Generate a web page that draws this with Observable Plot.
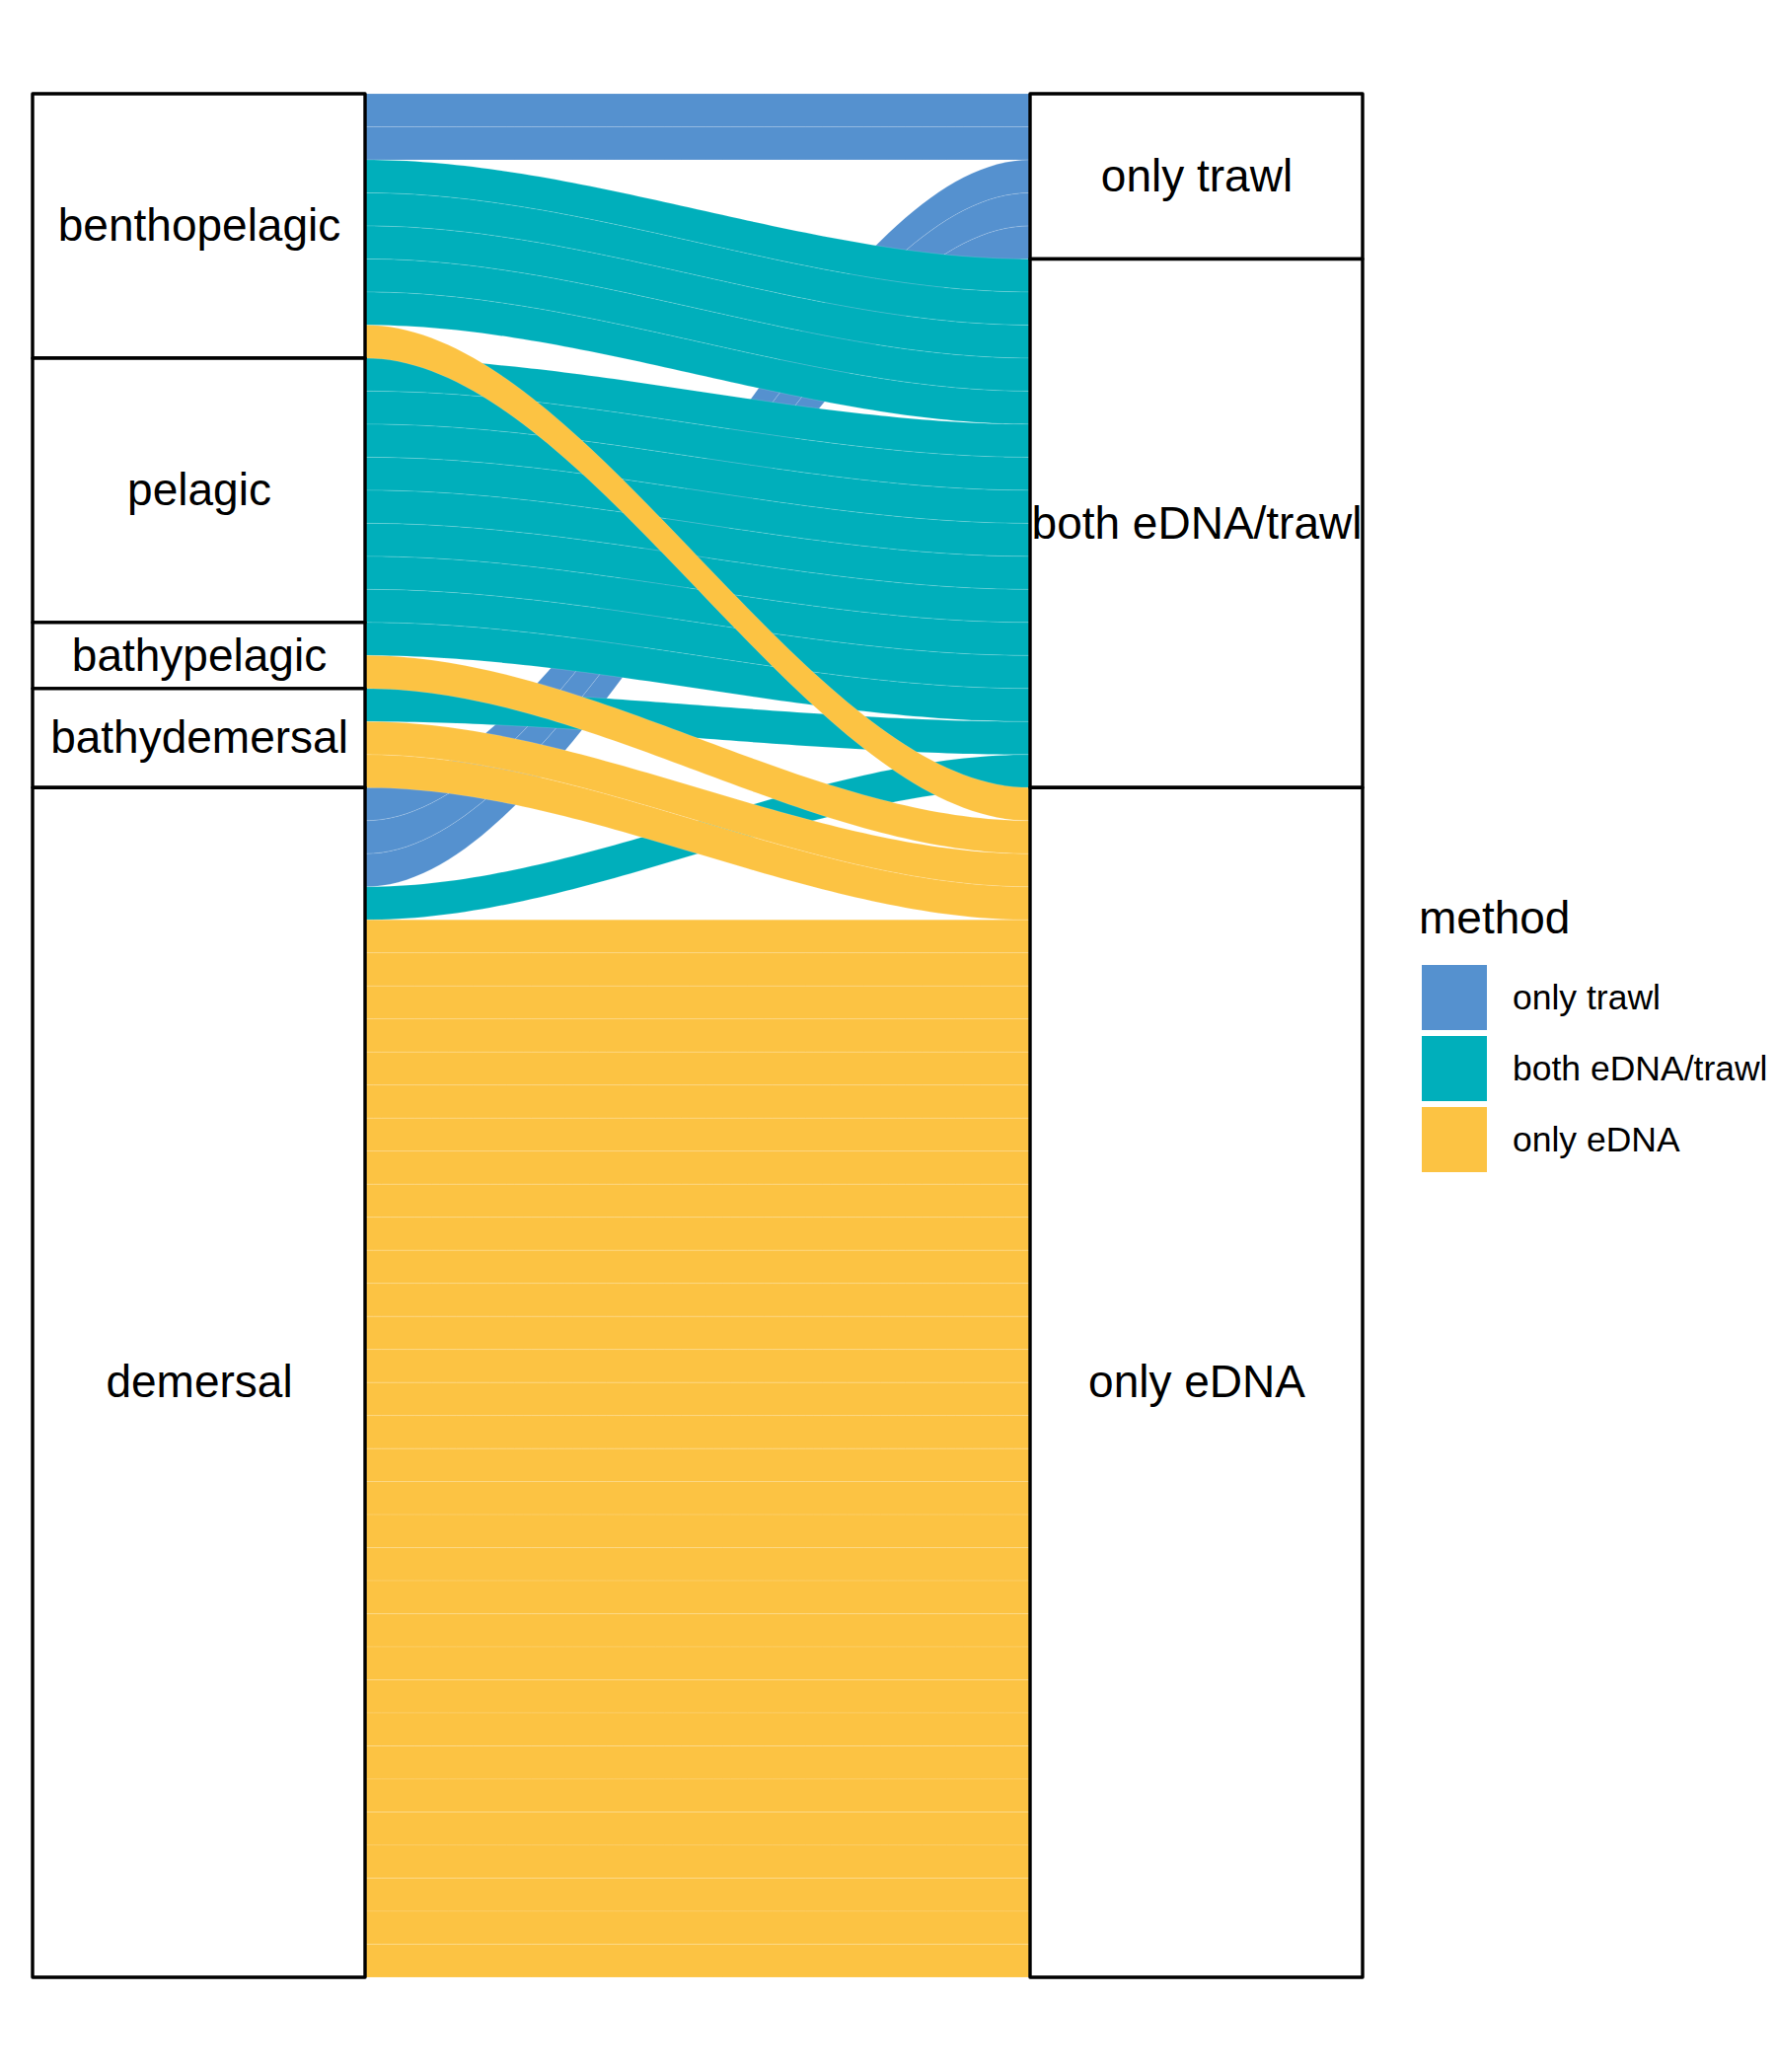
<!DOCTYPE html>
<html><head><meta charset="utf-8">
<script src="https://cdn.jsdelivr.net/npm/d3@7"></script>
<script src="https://cdn.jsdelivr.net/npm/@observablehq/plot@0.6"></script>
<style>
body{margin:0;background:#fff;font-family:"Liberation Sans",Arial,Helvetica,sans-serif;}
#wrap{position:relative;width:1800px;height:2100px;}
#legend{position:absolute;left:0;top:0;}
</style></head><body><div id="wrap"></div>
<script>
// ---- data ----
const habitats = ["benthopelagic","pelagic","bathypelagic","bathydemersal","demersal"];
const methods = ["only trawl","both eDNA/trawl","only eDNA"];
const methodColors = ["#5591CF","#00AFBB","#FCC343"];
// number of species per habitat (in habitat order) for each method
const onlyTrawl   = [2,0,0,0,3];
const bothMethods = [5,8,1,1,1];
const onlyEDNA    = [1,0,1,2,32];

const counts = habitats.map((h,i)=>[onlyTrawl[i], bothMethods[i], onlyEDNA[i]]);
const total = d3.sum(counts.flat());

// stratum extents
const leftStrata = [], rightStrata = [];
let acc = 0;
habitats.forEach((h,i)=>{ const n=d3.sum(counts[i]); leftStrata.push({label:h, x1:1-1/6, x2:1+1/6, y1:acc, y2:acc+n}); acc+=n; });
acc = 0;
methods.forEach((m,j)=>{ const n=d3.sum(counts.map(c=>c[j])); rightStrata.push({label:m, x1:2-1/6, x2:2+1/6, y1:acc, y2:acc+n}); acc+=n; });

// flow starting positions
const leftStart = {}, rightStart = {};
acc = 0;
habitats.forEach((h,i)=>methods.forEach((m,j)=>{ leftStart[i+"-"+j]=acc; acc+=counts[i][j]; }));
acc = 0;
methods.forEach((m,j)=>habitats.forEach((h,i)=>{ rightStart[i+"-"+j]=acc; acc+=counts[i][j]; }));

// build alluvium areas (one per species), smooth sigmoid between axes
const N = 80;
const smooth = t => t*t*(3-2*t);
const flowsByMethod = methods.map(()=>[]);
let uid = 0;
habitats.forEach((h,i)=>methods.forEach((m,j)=>{
  for(let k=0;k<counts[i][j];k++){
    const yL = leftStart[i+"-"+j]+k, yR = rightStart[i+"-"+j]+k;
    const id = uid++;
    for(let s=0;s<=N;s++){
      const t = s/N, f = smooth(t);
      const y = yL + f*(yR-yL);
      flowsByMethod[j].push({id, method:m, x:(1+1/6)+t*(2/3), y1:y, y2:y+1});
    }
  }
}));

const font = '"Liberation Sans",Arial,Helvetica,sans-serif';
const plot = Plot.plot({
  width:1800, height:2100,
  margin:0,
  style:{fontFamily:font, background:"white"},
  x:{domain:[1-1/6, 2+1/6], range:[33,1381], axis:null},
  y:{domain:[0,total], range:[95,2004], axis:null},
  color:{domain:methods, range:methodColors},
  marks:[
    ...flowsByMethod.map(data=>Plot.areaY(data,{x:"x", y1:"y1", y2:"y2", z:"id", fill:"method",
        stroke:"white", strokeOpacity:0.2, strokeWidth:0.7, curve:"linear"})),
    Plot.rect(leftStrata,{x1:"x1",x2:"x2",y1:"y1",y2:"y2",fill:"white",stroke:"black",strokeWidth:3.4,strokeLinejoin:"round"}),
    Plot.rect(rightStrata,{x1:"x1",x2:"x2",y1:"y1",y2:"y2",fill:"white",stroke:"black",strokeWidth:3.4,strokeLinejoin:"round"}),
    Plot.text(leftStrata,{x:d=>(d.x1+d.x2)/2, y:d=>(d.y1+d.y2)/2, text:"label", fontSize:46, fill:"black"}),
    Plot.text(rightStrata,{x:d=>(d.x1+d.x2)/2, y:d=>(d.y1+d.y2)/2, text:"label", fontSize:46, fill:"black"})
  ]
});
const wrap = document.getElementById("wrap");
wrap.appendChild(plot);

// legend
const color = plot.scale("color");
const lg = d3.select(wrap).append("svg").attr("id","legend").attr("width",1800).attr("height",2100)
  .style("font-family",font);
lg.append("text").attr("x",1438).attr("y",946).attr("font-size",46).attr("fill","black").text("method");
methods.forEach((m,j)=>{
  const y0 = 978 + j*72;
  lg.append("rect").attr("x",1441).attr("y",y0).attr("width",66).attr("height",66).attr("fill",color.range[j]);
  lg.append("text").attr("x",1533).attr("y",y0+33).attr("dy","0.35em").attr("font-size",35.5).attr("fill","black").text(m);
});
</script></body></html>
